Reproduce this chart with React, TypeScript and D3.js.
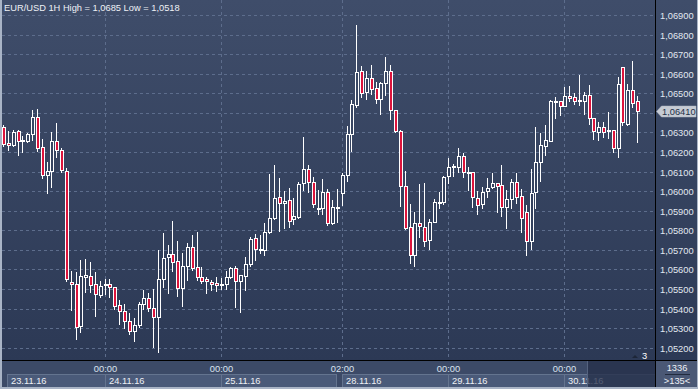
import React from "react";
import * as d3 from "d3";

const W = 698;
const H = 389;

const title = "EUR/USD 1H High = 1,0685 Low = 1,0518";

// hourly candles, 23.11.16 03:00 .. 30.11.16
const opens = [
  1.06327, 1.06248, 1.06236, 1.06306, 1.06258, 1.06258, 1.0629, 1.06378, 1.06227, 1.06084,
  1.06105, 1.06258, 1.06211, 1.06105, 1.05538, 1.05524, 1.05311, 1.05563, 1.05567, 1.05524,
  1.0547, 1.05521, 1.05526, 1.05509, 1.05417, 1.05389, 1.05337, 1.05286, 1.05315, 1.05422,
  1.05456, 1.05402, 1.05356, 1.0555, 1.05662, 1.05678, 1.05643, 1.05504, 1.05619, 1.05713,
  1.05611, 1.05563, 1.0555, 1.05538, 1.05529, 1.05524, 1.05526, 1.05563, 1.05606, 1.0554,
  1.05568, 1.05626, 1.05759, 1.05704, 1.057, 1.0579, 1.05861, 1.05969, 1.05938, 1.05955,
  1.05856, 1.0587, 1.0604, 1.06113, 1.06045, 1.0591, 1.05916, 1.05994, 1.05836, 1.05921,
  1.05989, 1.06083, 1.06291, 1.0644, 1.06614, 1.06505, 1.06577, 1.06526, 1.0647, 1.06551,
  1.06616, 1.06415, 1.06308, 1.06028, 1.05816, 1.05674, 1.05836, 1.05819, 1.05751, 1.05844,
  1.05946, 1.05946, 1.06078, 1.06122, 1.06122, 1.06181, 1.06099, 1.06097, 1.05964, 1.05933,
  1.06001, 1.0602, 1.0604, 1.06032, 1.05921, 1.0596, 1.06045, 1.05975, 1.05892, 1.05745,
  1.05994, 1.06151, 1.06233, 1.06258, 1.06458, 1.06461, 1.06437, 1.06488, 1.0648, 1.06465,
  1.06462, 1.06492, 1.06372, 1.06304, 1.06327, 1.06311, 1.06312, 1.06222, 1.06633, 1.06342,
  1.06517, 1.06461,
];
const highs = [
  1.06338, 1.06308, 1.06313, 1.06313, 1.06282, 1.06299, 1.06415, 1.06418, 1.06267, 1.06149,
  1.06303, 1.0635, 1.06219, 1.06117, 1.05592, 1.05589, 1.05648, 1.05652, 1.0564, 1.05589,
  1.05541, 1.05553, 1.05553, 1.05509, 1.05444, 1.05424, 1.05379, 1.05351, 1.05435, 1.05495,
  1.05481, 1.05499, 1.057, 1.05785, 1.05725, 1.05848, 1.05745, 1.05683, 1.05734, 1.05776,
  1.05793, 1.05614, 1.05563, 1.05546, 1.0556, 1.05555, 1.05594, 1.05614, 1.05618, 1.05572,
  1.05665, 1.05764, 1.05781, 1.05776, 1.05836, 1.06088, 1.06134, 1.06066, 1.06001, 1.06015,
  1.05964, 1.06047, 1.06277, 1.06134, 1.06071, 1.06006, 1.06061, 1.0601, 1.05955, 1.0601,
  1.06094, 1.06333, 1.06466, 1.0685, 1.06641, 1.06616, 1.06645, 1.06556, 1.0656, 1.06684,
  1.06645, 1.06415, 1.06313, 1.06103, 1.05935, 1.05892, 1.06037, 1.0604, 1.05856, 1.05959,
  1.05994, 1.06079, 1.06168, 1.06139, 1.06219, 1.06193, 1.06125, 1.06099, 1.06003, 1.06023,
  1.06066, 1.06091, 1.0604, 1.06134, 1.06006, 1.06062, 1.06094, 1.0601, 1.05929, 1.06113,
  1.06326, 1.06296, 1.06338, 1.06466, 1.06483, 1.06461, 1.06534, 1.06538, 1.06503, 1.06594,
  1.06508, 1.06543, 1.06372, 1.06355, 1.06355, 1.06406, 1.06312, 1.06585, 1.06633, 1.06546,
  1.06665, 1.06486,
];
const lows = [
  1.06231, 1.06211, 1.06231, 1.06185, 1.06202, 1.06251, 1.06262, 1.06205, 1.06066, 1.05992,
  1.06023, 1.06176, 1.06099, 1.05543, 1.05393, 1.05245, 1.05282, 1.05483, 1.05486, 1.05364,
  1.05461, 1.05473, 1.05461, 1.054, 1.05321, 1.05302, 1.0527, 1.05236, 1.05308, 1.05397,
  1.05388, 1.05205, 1.0518, 1.05512, 1.05481, 1.05594, 1.05466, 1.05415, 1.05546, 1.05597,
  1.05546, 1.05532, 1.05481, 1.05495, 1.05492, 1.05499, 1.05499, 1.05555, 1.0541, 1.05384,
  1.05495, 1.05618, 1.05648, 1.05683, 1.05674, 1.05785, 1.05856, 1.05798, 1.05811, 1.05816,
  1.05832, 1.05865, 1.06006, 1.05997, 1.05918, 1.05882, 1.05883, 1.05827, 1.05832, 1.05844,
  1.05929, 1.06054, 1.06207, 1.06432, 1.06483, 1.06471, 1.06497, 1.06452, 1.06394, 1.06492,
  1.06369, 1.06304, 1.05926, 1.05805, 1.05635, 1.05619, 1.05768, 1.05721, 1.05705, 1.05841,
  1.05916, 1.05933, 1.0604, 1.06078, 1.06099, 1.06071, 1.06006, 1.05921, 1.05882, 1.05913,
  1.05972, 1.06015, 1.05892, 1.05875, 1.05813, 1.05916, 1.05941, 1.0579, 1.05674, 1.05703,
  1.05916, 1.06052, 1.06185, 1.06256, 1.06376, 1.06389, 1.06435, 1.06461, 1.06446, 1.0644,
  1.06393, 1.06343, 1.06267, 1.06262, 1.06278, 1.0627, 1.06199, 1.06176, 1.06338, 1.06338,
  1.06432, 1.06253,
];
const closes = [
  1.06241, 1.06236, 1.06303, 1.06255, 1.06259, 1.06292, 1.06378, 1.06222, 1.06081, 1.06105,
  1.06258, 1.06211, 1.06108, 1.0555, 1.05524, 1.05308, 1.05567, 1.05572, 1.05519, 1.05473,
  1.05516, 1.05526, 1.05509, 1.05413, 1.05386, 1.05337, 1.05286, 1.05315, 1.05422, 1.05456,
  1.05402, 1.05356, 1.0555, 1.05657, 1.05678, 1.05637, 1.05504, 1.05618, 1.05713, 1.05606,
  1.05563, 1.05543, 1.0554, 1.05524, 1.05519, 1.05525, 1.05563, 1.05606, 1.0554, 1.05572,
  1.05626, 1.05754, 1.05703, 1.05706, 1.0579, 1.05861, 1.05964, 1.05938, 1.0595, 1.05849,
  1.05873, 1.06037, 1.06113, 1.06045, 1.05933, 1.05912, 1.05994, 1.05836, 1.05918, 1.05913,
  1.06083, 1.06291, 1.06446, 1.06608, 1.065, 1.06577, 1.06522, 1.0647, 1.06551, 1.06614,
  1.06415, 1.06308, 1.06027, 1.05811, 1.05674, 1.05836, 1.05822, 1.05745, 1.05844, 1.05943,
  1.05947, 1.06071, 1.06122, 1.06129, 1.06181, 1.06099, 1.061, 1.05969, 1.05929, 1.05997,
  1.06015, 1.0604, 1.06027, 1.05921, 1.0596, 1.06045, 1.05972, 1.05861, 1.05745, 1.05989,
  1.06148, 1.06236, 1.06262, 1.06461, 1.06459, 1.06437, 1.06486, 1.06478, 1.06462, 1.06466,
  1.06492, 1.06372, 1.06309, 1.06327, 1.06304, 1.06312, 1.06222, 1.06546, 1.06355, 1.06517,
  1.06452, 1.0641,
];

const lastPrice = 1.0641;

// x axis: candle index of each labelled hour
const timeTickIndex = [21, 45, 70, 92, 116];
const timeTickLabels = ["00:00", "00:00", "02:00", "00:00", "00:00"];

const dateLabels = ["23.11.16", "24.11.16", "25.11.16", "28.11.16", "29.11.16", "30.11.16"];
const dateStart = [0.8, 21, 45, 70, 92, 116];
const dateEnd = [21, 45, 68.8, 92, 116, 140];

const yTickValues = d3.range(0, 18).map((k) => 1.052 + k * 0.001);

const barCount = "1336";
const barScale = ">135<";
const markerLabel = "3";

const FONT = "'Liberation Sans', Arial, sans-serif";
const FS = 9.3;

export default function App() {
  const plotL = 2;
  const plotR = 655;
  const plotB = 360;

  const x = d3.scaleLinear().domain([0, 131]).range([3, 637]);
  const y = d3.scaleLinear().domain([1.052, 1.069]).range([347.7, 15]);
  const fmt = (v: number) => d3.format(".5f")(v).replace(".", ",");

  const candles = opens.map((o, i) => ({
    o,
    h: highs[i],
    l: lows[i],
    c: closes[i],
    i,
  }));

  const py = Math.round(y(lastPrice));

  return (
    <svg
      width={W}
      height={H}
      style={{ position: "absolute", left: 0, top: 0, display: "block" }}
      fontFamily={FONT}
    >
      <defs>
        <linearGradient id="bg" gradientUnits="userSpaceOnUse" x1="0" y1="0" x2="0" y2="361">
          <stop offset="0" stopColor="#3f4d6a" />
          <stop offset="1" stopColor="#2c3955" />
        </linearGradient>
        <clipPath id="plotClip">
          <rect x={plotL} y={0} width={plotR - plotL} height={plotB} />
        </clipPath>
      </defs>

      {/* backgrounds */}
      <rect x={0} y={0} width={W} height={361} fill="url(#bg)" />
      <rect x={0} y={361} width={W} height={H - 361} fill="#3c4a67" />

      {/* grid */}
      <g clipPath="url(#plotClip)">
        {yTickValues.map((t, k) => {
          const yy = Math.round(y(t)) + 0.5;
          return (
            <line
              key={k}
              x1={plotL}
              x2={plotR}
              y1={yy}
              y2={yy}
              stroke="#5d6d8c"
              strokeWidth={1}
              strokeDasharray="3,3"
            />
          );
        })}
        {timeTickIndex.map((t, k) => {
          const xx = Math.round(x(t)) + 0.5;
          return (
            <line
              key={k}
              x1={xx}
              x2={xx}
              y1={0}
              y2={plotB}
              stroke="#5d6d8c"
              strokeWidth={1}
              strokeDasharray="3,3"
            />
          );
        })}

        {/* candles */}
        {candles.map((d) => {
          const cx = Math.round(x(d.i));
          const yo = Math.round(y(d.o));
          const yc = Math.round(y(d.c));
          const top = Math.min(yo, yc);
          const bot = Math.max(yo, yc);
          const yh = Math.round(y(d.h));
          const yl = Math.round(y(d.l));
          const bear = d.c < d.o;
          return (
            <g key={d.i}>
              <line x1={cx + 0.5} x2={cx + 0.5} y1={yh} y2={yl + 1} stroke="#ffffff" strokeWidth={1} />
              <rect
                x={cx - 0.5}
                y={top + 0.5}
                width={3}
                height={Math.max(1, bot - top)}
                fill={bear ? "#dc143c" : "url(#bg)"}
                stroke="#ffffff"
                strokeWidth={1}
              />
            </g>
          );
        })}
      </g>

      {/* header */}
      <text x={4} y={11} fontSize={FS} fill="#eef1f6">
        {title}
      </text>

      {/* marker "3" */}
      <path d="M632,358 L635,355 L638,358 Z" fill="#1d2638" />
      <text x={642} y={359} fontSize={FS} fill="#ffffff">
        {markerLabel}
      </text>

      {/* right axis labels (the one under the price box is hidden) */}
      {yTickValues
        .filter((t) => Math.abs(y(t) - y(lastPrice)) > 8)
        .map((t, k) => (
          <text key={k} x={660} y={Math.round(y(t)) + 3.5} fontSize={FS} fill="#e2e8f1">
            {fmt(t)}
          </text>
        ))}

      {/* current price box */}
      <path
        d={`M656.5,${py + 0.5} L661.5,${py - 5} H696 V${py + 6} H661.5 Z`}
        fill="#c6cbd4"
        stroke="#aeb5c2"
        strokeWidth={0.5}
      />
      <text x={662} y={py + 4} fontSize={FS} fill="#233047">
        {fmt(lastPrice)}
      </text>

      {/* bottom axis */}
      {dateLabels.map((lab, k) => {
        const x0 = Math.round(x(dateStart[k])) + 0.5;
        const x1 = Math.min(plotR, Math.round(x(dateEnd[k]))) + 0.5;
        return (
          <g key={k}>
            <rect x={x0} y={374.5} width={x1 - x0} height={13} fill="#4a5a79" stroke="#64748f" strokeWidth={1} />
            <text x={x0 + 3.5} y={384} fontSize={FS} fill="#eef1f6">
              {lab}
            </text>
          </g>
        );
      })}
      {timeTickIndex.map((t, k) => (
        <text
          key={k}
          x={Math.round(x(t)) + 0.5}
          y={372}
          fontSize={FS}
          fill="#dbe3ef"
          textAnchor="middle"
        >
          {timeTickLabels[k]}
        </text>
      ))}
      {/* future shade */}
      <rect x={587} y={361} width={plotR - 587} height={26} fill="#25304a" fillOpacity={0.78} />
      <line x1={587.5} x2={587.5} y1={361} y2={387} stroke="#55637f" strokeWidth={1} />

      {/* bottom-right box */}
      <rect x={656} y={361} width={W - 656} height={H - 361} fill="#4a5875" />
      <text x={677} y={371} fontSize={FS} fill="#eef1f6" textAnchor="middle">
        {barCount}
      </text>
      <line x1={665} x2={690} y1={374.5} y2={374.5} stroke="#222b3e" strokeWidth={1} />
      <text x={677} y={384} fontSize={FS} fill="#eef1f6" textAnchor="middle">
        {barScale}
      </text>

      {/* separators */}
      <line x1={0} x2={W} y1={360.5} y2={360.5} stroke="#000000" strokeWidth={1} />
      <line x1={655.5} x2={655.5} y1={0} y2={H} stroke="#000000" strokeWidth={1} />

      {/* frame */}
      <rect x={0} y={0} width={2} height={H} fill="#a9b4c6" />
      <rect x={0} y={H - 2} width={W} height={2} fill="#a9b4c6" />
      <rect x={W - 1} y={0} width={1} height={H} fill="#a9b4c6" />
    </svg>
  );
}
